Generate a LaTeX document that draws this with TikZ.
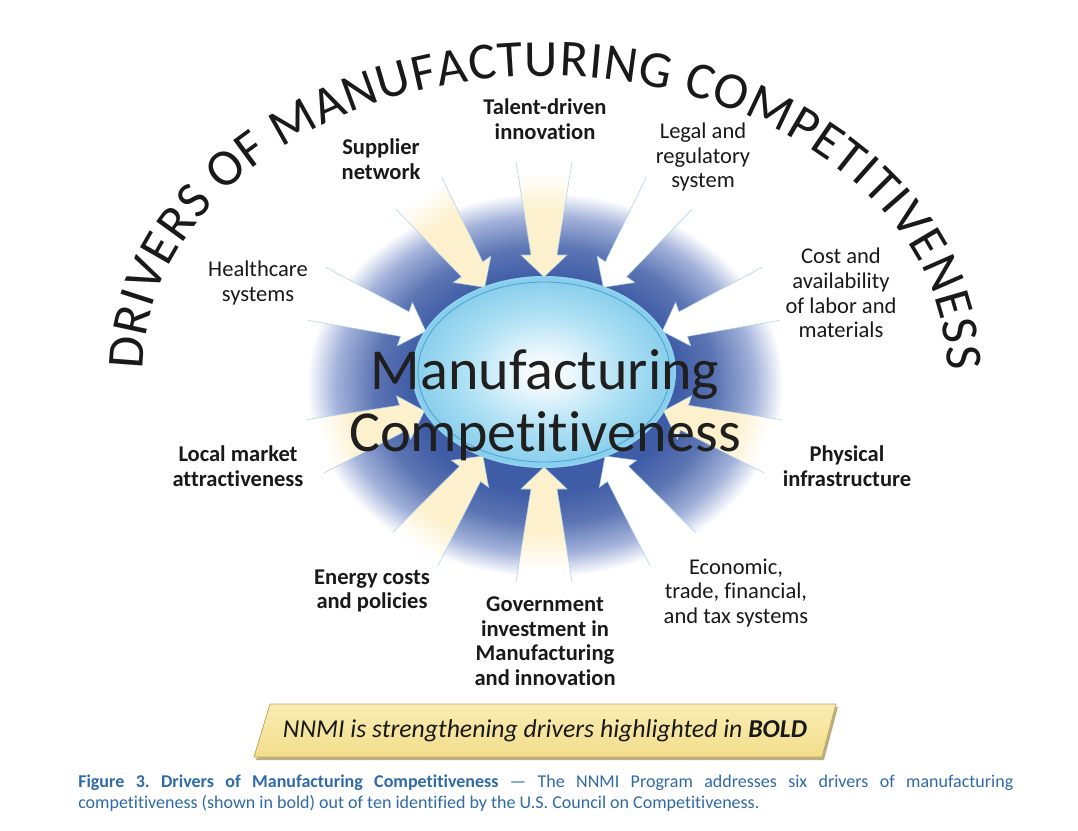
\documentclass[tikz,border=0pt]{standalone}
\usepackage{fontspec}
\setmainfont{Carlito}[Ligatures=NoCommon]
\usepackage{tikz}
\usetikzlibrary{calc,positioning,shapes.geometric,decorations.text}
\usepackage{xcolor}
\definecolor{blobdark}{HTML}{3F5CA6}
\definecolor{blobmid}{HTML}{5C75B3}
\definecolor{bloblight}{HTML}{A3B2DA}
\definecolor{drvcream}{HTML}{FDF0CC}
\definecolor{drvedge}{HTML}{A8CFEA}
\definecolor{ellcore}{HTML}{F2FAFE}
\definecolor{ellmid}{HTML}{ABDFF4}
\definecolor{elledge}{HTML}{86CDEB}
\definecolor{ellrim}{HTML}{8FD2EF}
\definecolor{ellline}{HTML}{4FA6D6}
\definecolor{bannerhi}{HTML}{FAEDB4}
\definecolor{bannerlo}{HTML}{F2DD8A}
\definecolor{banneredge}{HTML}{BFA95A}
\definecolor{bannershadow}{HTML}{9C8B55}
\definecolor{capblue}{HTML}{2E69A8}

% 25bp of a shading is the rim of the shaded path
\pgfdeclareradialshading{blobshade}{\pgfpoint{0bp}{0bp}}{color(0bp)=(blobdark); color(14bp)=(blobdark); color(18bp)=(blobmid); color(22bp)=(bloblight); color(25bp)=(white); color(50bp)=(white)}
\pgfdeclareradialshading{ellshade}{\pgfpoint{0bp}{0bp}}{color(0bp)=(white); color(4bp)=(ellcore); color(16bp)=(ellmid); color(25bp)=(elledge); color(50bp)=(elledge)}
\pgfdeclareverticalshading{creamfade}{100bp}{color(0bp)=(drvcream); color(53bp)=(drvcream); color(70bp)=(white); color(100bp)=(white)}

\newcommand{\drvfont}{\fontsize{16.9}{18.4}\selectfont}
\newcommand{\arcfont}{\fontsize{39}{42}\selectfont}
\newcommand{\mcfont}{\fontsize{43.5}{46.5}\selectfont}
\newcommand{\capfont}{\fontsize{13.5}{15.75}\selectfont}

\begin{document}
\frenchspacing
\begin{tikzpicture}[x=0.75pt, y=0.75pt,
    driver/.style={font=\drvfont, align=center, text=black!90, inner sep=1pt},
    boldriver/.style={driver, font=\drvfont\bfseries},
    boldarrow/.style={shading=creamfade, draw=drvedge, line width=0.4pt},
    plainarrow/.style={fill=white, draw=drvedge, line width=0.4pt}]
    \useasboundingbox (0,0) rectangle (1078,-831);

    % Glow behind the centre
    \shade[shading=blobshade] (545,-385) ellipse[x radius=238, y radius=192];

    % Centre ellipse (placed first, drawn after the arrows)
    \node[ellipse, minimum width=196.5pt, minimum height=142.5pt, inner sep=0pt, outer sep=0pt] (mc) at (544,-372) {};

    % Arrows
    \def\hlen{22}
    \def\tlen{115}
    \foreach \ang in {90,125,198,234,270,342} {
        \pgfmathsetmacro{\shang}{\ang-90}
        \coordinate (tip) at (mc.\ang);
        \shade[boldarrow, shading angle=\shang]
            ($(tip)+(\ang:\tlen)+(\ang+90:28)$) -- ($(tip)+(\ang:\hlen)+(\ang+90:13)$)
            -- ($(tip)+(\ang:\hlen)+(\ang+90:23)$) -- (tip)
            -- ($(tip)+(\ang:\hlen)+(\ang-90:23)$) -- ($(tip)+(\ang:\hlen)+(\ang-90:13)$)
            -- ($(tip)+(\ang:\tlen)+(\ang-90:28)$);
    }
    \foreach \ang in {55,161,19,306} {
        \coordinate (tip) at (mc.\ang);
        \path[plainarrow]
            ($(tip)+(\ang:\tlen)+(\ang+90:28)$) -- ($(tip)+(\ang:\hlen)+(\ang+90:13)$)
            -- ($(tip)+(\ang:\hlen)+(\ang+90:23)$) -- (tip)
            -- ($(tip)+(\ang:\hlen)+(\ang-90:23)$) -- ($(tip)+(\ang:\hlen)+(\ang-90:13)$)
            -- ($(tip)+(\ang:\tlen)+(\ang-90:28)$);
    }

    % Centre ellipse
    \shade[shading=ellshade, draw=ellrim, line width=1.5pt] (mc.center) ellipse[x radius=131, y radius=95];
    \draw[ellline, line width=0.7pt] (mc.center) ellipse[x radius=126, y radius=90];
    \node[font=\mcfont, align=center, text=black!88, inner sep=0pt] (mctext) at (545,-405) {Manufacturing\\Competitiveness};

    % Arc title
    \path[decorate, decoration={text along path, text color=black!90,
        text={|\arcfont|DRIVERS OF MANUFACTURING COMPETITIVENESS}, text align={fit to path}}]
        (143,-370) arc[start angle=180, end angle=0, x radius=402, y radius=294];

    % Labels
    \node[boldriver] (sup) at (381,-159) {Supplier\\network};
    \node[boldriver] (tal) at (545,-119) {Talent-driven\\innovation};
    \node[driver] (leg) at (703,-157) {Legal and\\regulatory\\system};
    \node[driver] (hea) at (258,-283) {Healthcare\\systems};
    \node[driver] (cst) at (841,-293) {Cost and\\availability\\of labor and\\materials};
    \node[boldriver] (loc) at (238,-466) {Local market\\attractiveness};
    \node[boldriver] (phy) at (847,-466) {Physical\\infrastructure};
    \node[boldriver] (ene) at (372,-591) {Energy costs\\and policies};
    \node[boldriver] (gov) at (545,-641) {Government\\investment in\\Manufacturing\\and innovation};
    \node[driver] (eco) at (736,-593) {Economic,\\trade, financial,\\and tax systems};

    % Banner
    \fill[bannershadow, opacity=0.7] (272,-707) -- (838,-707) -- (824,-760) -- (256,-760) -- cycle;
    \shade[top color=bannerhi, bottom color=bannerlo, draw=banneredge, line width=0.6pt]
        (270,-704) -- (836,-704) -- (822,-757) -- (254,-757) -- cycle;
    \node[font=\fontsize{19.3}{22}\selectfont\itshape, text=black!90] (nnmi) at (545,-731)
        {NNMI is strengthening drivers highlighted in \textbf{BOLD}};

    % Caption
    \node[anchor=north west, text width=701.25pt, inner sep=0pt, font=\capfont, text=capblue, align=justify] (cap) at (78,-775)
        {\textbf{Figure 3. Drivers of Manufacturing Competitiveness} — The NNMI Program addresses six drivers of manufacturing\linebreak competitiveness (shown in bold) out of ten identified by the U.S. Council on Competitiveness.};
\end{tikzpicture}
\end{document}
